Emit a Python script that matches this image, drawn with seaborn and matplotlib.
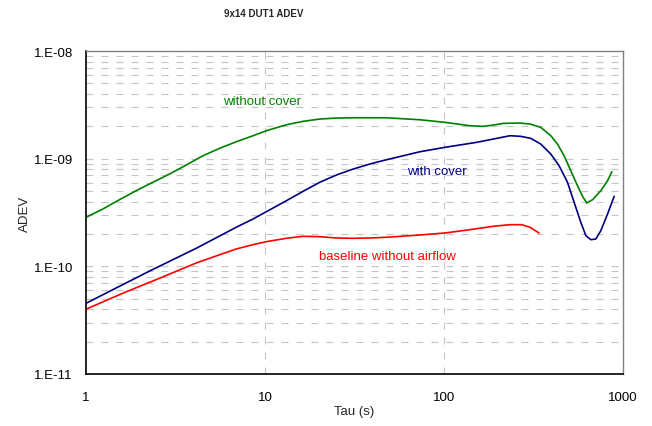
import numpy as np
import pandas as pd
import matplotlib
matplotlib.use("Agg")
import matplotlib.pyplot as plt
import seaborn as sns

# Allan deviation vs averaging time for three measurement setups
tau_no_cover = [1.0, 1.24, 1.536, 1.905, 2.362, 2.925, 3.628, 4.499, 5.571, 6.908,
                8.57, 10.17, 13.16, 16.32, 20.21, 25.06, 31.08, 47.73, 73.3, 101.2,
                139.6, 166, 188.7, 214.7, 265.9, 302.5, 347.2, 395, 430.5, 468.8,
                511, 557, 594, 628, 676, 752, 820, 866.8]
adev_no_cover = [2.857e-10, 3.41e-10, 4.16e-10, 5.05e-10, 6.04e-10, 7.21e-10, 8.74e-10,
                 1.066e-9, 1.249e-9, 1.438e-9, 1.636e-9, 1.82e-9, 2.069e-9, 2.225e-9,
                 2.337e-9, 2.387e-9, 2.402e-9, 2.40e-9, 2.302e-9, 2.178e-9, 2.024e-9,
                 1.998e-9, 2.055e-9, 2.131e-9, 2.145e-9, 2.1e-9, 1.956e-9, 1.636e-9,
                 1.369e-9, 1.066e-9, 7.73e-10, 5.615e-10, 4.477e-10, 3.879e-10,
                 4.162e-10, 5.045e-10, 6.247e-10, 7.57e-10]

tau_cover = [1.0, 2.28, 4.127, 6.908, 8.57, 10.17, 13.16, 16.32, 20.21, 25.06, 31.08,
             38.5, 47.73, 59.2, 73.3, 101.2, 152.2, 188.7, 233.8, 268.4, 305.3, 347.2,
             395, 439.5, 489.8, 533.3, 581.3, 620, 661.3, 705.3, 752, 820, 893]
adev_cover = [4.54e-11, 9.1e-11, 1.472e-10, 2.31e-10, 2.754e-10, 3.221e-10, 4.074e-10,
              4.98e-10, 6.04e-10, 7.06e-10, 8.02e-10, 8.93e-10, 9.79e-10, 1.066e-9,
              1.161e-9, 1.276e-9, 1.42e-9, 1.524e-9, 1.636e-9, 1.614e-9, 1.547e-9,
              1.369e-9, 1.106e-9, 8.61e-10, 6.04e-10, 3.937e-10, 2.567e-10, 1.928e-10,
              1.769e-10, 1.796e-10, 2.146e-10, 3.065e-10, 4.477e-10]

tau_baseline = [1.0, 1.605, 2.572, 4.127, 5.39, 6.908, 8.57, 10.17, 13.16, 16.32,
                20.21, 25.06, 31.08, 38.5, 47.73, 73.3, 101.2, 139.6, 188.7, 233.8,
                271.8, 302.5, 339.7]
adev_baseline = [4.0e-11, 5.63e-11, 7.75e-11, 1.075e-10, 1.257e-10, 1.451e-10,
                 1.591e-10, 1.696e-10, 1.823e-10, 1.903e-10, 1.887e-10, 1.835e-10,
                 1.823e-10, 1.835e-10, 1.863e-10, 1.957e-10, 2.042e-10, 2.192e-10,
                 2.357e-10, 2.439e-10, 2.439e-10, 2.307e-10, 2.042e-10]

series_names = ["without cover", "with cover", "baseline without airflow"]
series_colors = ["#008000", "#000080", "#ff0000"]

y_ticks = [1e-11, 1e-10, 1e-9, 1e-8]
y_tick_labels = ["1.E-11", "1.E-10", "1.E-09", "1.E-08"]
x_ticks = [1, 10, 100, 1000]
x_tick_labels = ["1", "10", "100", "1000"]

df = pd.concat([
    pd.DataFrame({"tau": tau_no_cover, "adev": adev_no_cover, "series": series_names[0]}),
    pd.DataFrame({"tau": tau_cover, "adev": adev_cover, "series": series_names[1]}),
    pd.DataFrame({"tau": tau_baseline, "adev": adev_baseline, "series": series_names[2]}),
], ignore_index=True)

sns.set_style("white")
plt.rcParams["font.family"] = ["Liberation Sans", "DejaVu Sans"]
plt.rcParams["lines.scale_dashes"] = False

fig = plt.figure(figsize=(6.52, 4.27), dpi=100)
ax = fig.add_axes([0.132, 0.1218, 0.8235, 0.7562])
ax.set_xscale("log")
ax.set_yscale("log")
ax.set_xlim(1, 1000)
ax.set_ylim(1e-11, 1e-8)

# dashed grid: every decade subdivision horizontally, decades only vertically
grid_kw = dict(color="#c4c4c4", linewidth=0.8, linestyle=(0, (5.0, 5.8)), zorder=0)
for dec in [1e-11, 1e-10, 1e-9]:
    for m in range(1, 10):
        v = dec * m
        if 1e-11 < v < 1e-8:
            ax.axhline(v, **grid_kw)
for v in [10, 100]:
    ax.axvline(v, **grid_kw)

sns.lineplot(data=df, x="tau", y="adev", hue="series", hue_order=series_names,
             palette=series_colors, linewidth=1.2, legend=False, ax=ax,
             estimator=None, sort=False)
for line in ax.get_lines():
    line.set_solid_joinstyle("round")

ax.set_xticks(x_ticks)
ax.set_xticklabels(x_tick_labels)
ax.set_yticks(y_ticks)
ax.set_yticklabels(y_tick_labels)
ax.minorticks_off()
ax.tick_params(axis="both", which="major", direction="out", length=4, width=1,
               color="black", labelsize=9.5, labelcolor="black")
ax.tick_params(axis="x", pad=8)
ax.tick_params(axis="y", pad=5.5)

for side in ["left", "bottom"]:
    ax.spines[side].set_color("black")
    ax.spines[side].set_linewidth(1.2)
for side in ["top", "right"]:
    ax.spines[side].set_color("#808080")
    ax.spines[side].set_linewidth(1.0)
    ax.spines[side].set_visible(True)

ax.set_xlabel("Tau (s)", fontsize=9.5, labelpad=2)
ax.set_ylabel("ADEV", fontsize=9.5, labelpad=2)
fig.text(0.405, 0.967, "9x14 DUT1 ADEV", ha="center", va="center",
         fontsize=7, fontweight="bold")

ax.text(5.84, 3.43e-9, "without cover", color=series_colors[0], fontsize=9.5,
        ha="left", va="center")
ax.text(61.8, 7.64e-10, "with cover", color=series_colors[1], fontsize=9.5,
        ha="left", va="center")
ax.text(19.9, 1.26e-10, "baseline without airflow", color=series_colors[2],
        fontsize=9.5, ha="left", va="center")

fig.savefig("out.png", dpi=100)
